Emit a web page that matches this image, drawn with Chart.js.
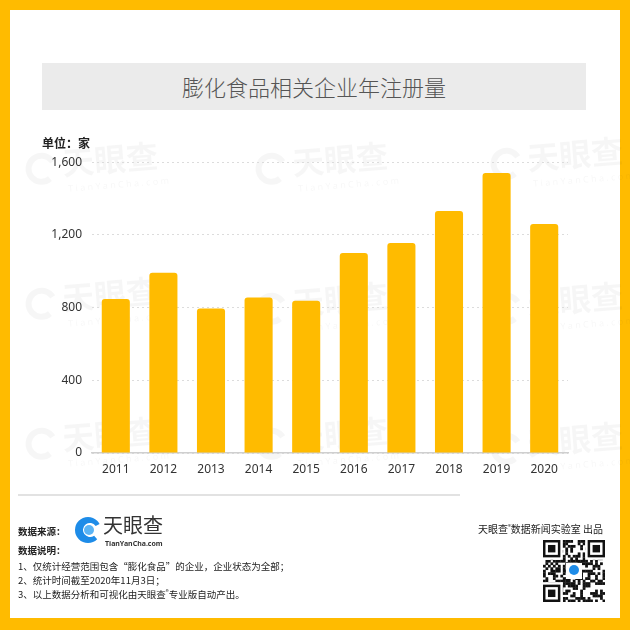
<!DOCTYPE html>
<html>
<head>
<meta charset="utf-8">
<script src="https://cdn.jsdelivr.net/npm/chart.js@4"></script>
<style>
  html, body { margin: 0; padding: 0; }
  body { width: 630px; height: 630px; background: #FFBB00; position: relative; overflow: hidden;
         font-family: "Noto Sans CJK SC", "Noto Sans", sans-serif; }
  #card { position: absolute; left: 10px; top: 10px; width: 610px; height: 608px; background: #fff; }
  .abs { position: absolute; }
  #title { left: 42px; top: 63px; width: 544px; height: 47px; background: #EBEBEB; color: #555;
           font-size: 22px; font-weight: 300; line-height: 47px; text-align: center; }
  #unit { left: 42px; top: 134px; font-size: 12px; font-weight: bold; color: #222; }
  #wrap { left: 30px; top: 145px; width: 560px; height: 340px; }
  #sep { left: 18px; top: 494px; width: 442px; height: 2px; background: #E2E2E2; }
  .foot { font-size: 9.5px; color: #222; white-space: nowrap; }
</style>
</head>
<body>
<div id="card"></div>
<canvas id="wm" class="abs" width="630" height="630" style="left:0;top:0"></canvas>

<div id="title" class="abs">膨化食品相关企业年注册量</div>
<div id="unit" class="abs">单位：家</div>
<div id="wrap" class="abs"><canvas id="chart" width="560" height="340"></canvas></div>
<div id="sep" class="abs"></div>

<div class="abs foot" style="left:18px;top:524px;font-weight:bold">数据来源：</div>
<canvas id="logo" class="abs" width="100" height="34" style="left:73px;top:515px"></canvas>
<div class="abs foot" style="left:18px;top:543px;font-weight:bold">数据说明：</div>
<div class="abs foot" style="left:18px;top:559px">1、仅统计经营范围包含“膨化食品”的企业，企业状态为全部；</div>
<div class="abs foot" style="left:18px;top:573px">2、统计时间截至2020年11月3日；</div>
<div class="abs foot" style="left:18px;top:587px">3、以上数据分析和可视化由天眼查<sup style="font-size:6px">®</sup>专业版自动产出。</div>

<div class="abs foot" style="right:27px;top:521px;font-size:10px">天眼查<sup style="font-size:6px">®</sup>数据新闻实验室 出品</div>
<canvas id="qr" class="abs" width="62" height="62" style="left:543px;top:540px"></canvas>

<script>
const years = ['2011', '2012', '2013', '2014', '2015', '2016', '2017', '2018', '2019', '2020'];
const counts = [848, 992, 795, 855, 838, 1101, 1156, 1332, 1540, 1260];
const yTicks = [0, 400, 800, 1200, 1600];

const numFont = { family: '"Noto Sans", sans-serif', size: 12 };

new Chart(document.getElementById('chart'), {
    type: 'bar',
    data: {
        labels: years,
        datasets: [{
            data: counts,
            backgroundColor: '#FFBB00',
            borderRadius: { topLeft: 3, topRight: 3 },
            borderSkipped: 'bottom',
            categoryPercentage: 0.59,
            barPercentage: 1
        }]
    },
    options: {
        responsive: false,
        animation: false,
        locale: 'en-US',
        layout: { padding: { top: 15, right: 22, left: 0, bottom: 0 } },
        plugins: { legend: { display: false }, tooltip: { enabled: false } },
        scales: {
            x: {
                grid: { display: false, drawTicks: false },
                border: { display: true, color: '#CFCFCF', width: 1.5 },
                ticks: { color: '#333', font: numFont, padding: 9, maxRotation: 0 },
                afterFit: s => { s.height = 32; }
            },
            y: {
                min: yTicks[0],
                max: yTicks[yTicks.length - 1],
                afterBuildTicks: s => { s.ticks = yTicks.map(v => ({ value: v })); },
                grid: { color: '#DCDCDC', drawTicks: false },
                border: { display: false, dash: [2, 3] },
                ticks: { color: '#333', font: numFont, padding: 10,
                         callback: v => v.toLocaleString('en-US') },
                afterFit: s => { s.width = 62; }
            }
        }
    }
});

// faint background watermarks
(function () {
    const c = document.getElementById('wm').getContext('2d');
    const spots = [[25, 150], [255, 150], [490, 145], [25, 285], [255, 290], [490, 290], [25, 425], [255, 425], [490, 430]];
    spots.forEach(([x, y]) => {
        c.save();
        c.translate(x, y);
        c.rotate(-0.08);
        c.strokeStyle = 'rgba(0,0,0,0.035)';
        c.lineWidth = 6;
        c.beginPath(); c.arc(15, 20, 13, 0.3 * Math.PI, 1.85 * Math.PI); c.stroke();
        c.fillStyle = 'rgba(0,0,0,0.035)';
        c.font = 'bold 32px "Noto Sans CJK SC"';
        c.textBaseline = 'top';
        c.fillText('天眼查', 36, 0);
        c.font = '9px "Noto Sans"';
        c.fillText('T i a n Y a n C h a . c o m', 40, 38);
        c.restore();
    });
})();

// footer logo
(function () {
    const c = document.getElementById('logo').getContext('2d');
    c.fillStyle = '#1E8CE8';
    c.beginPath();
    c.arc(15, 15, 13, 0.25 * Math.PI, 1.85 * Math.PI);
    c.arc(17, 15, 7, 1.8 * Math.PI, 0.3 * Math.PI, true);
    c.closePath();
    c.fill();
    c.fillStyle = '#5BB4F5';
    c.beginPath();
    c.arc(16, 15, 5, 0, 2 * Math.PI);
    c.fill();
    c.fillStyle = '#333';
    c.font = '20px "Noto Sans CJK SC"';
    c.textBaseline = 'top';
    c.fillText('天眼查', 30, 0);
    c.font = 'bold 7px "Noto Sans"';
    c.fillText('TianYanCha.com', 32, 25);
})();

// QR-style block
(function () {
    const c = document.getElementById('qr').getContext('2d');
    const n = 25, m = 62 / n;
    c.fillStyle = '#fff';
    c.fillRect(0, 0, 62, 62);
    c.fillStyle = '#111';
    let h = 7;
    for (let r = 0; r < n; r++) {
        for (let k = 0; k < n; k++) {
            h = (h * 1103515245 + 12345) & 0x7fffffff;
            if ((h >> 16) & 1) c.fillRect(k * m, r * m, m + 0.3, m + 0.3);
        }
    }
    function finder(x, y) {
        c.fillStyle = '#fff'; c.fillRect(x * m - m, y * m - m, 9 * m, 9 * m);
        c.fillStyle = '#111'; c.fillRect(x * m, y * m, 7 * m, 7 * m);
        c.fillStyle = '#fff'; c.fillRect((x + 1) * m, (y + 1) * m, 5 * m, 5 * m);
        c.fillStyle = '#111'; c.fillRect((x + 2) * m, (y + 2) * m, 3 * m, 3 * m);
    }
    finder(0, 0); finder(18, 0); finder(0, 18);
    c.fillStyle = '#fff';
    c.fillRect(23, 23, 16, 16);
    c.fillStyle = '#1E8CE8';
    c.beginPath(); c.arc(31, 30, 5, 0, 2 * Math.PI); c.fill();
})();
</script>
</body>
</html>
